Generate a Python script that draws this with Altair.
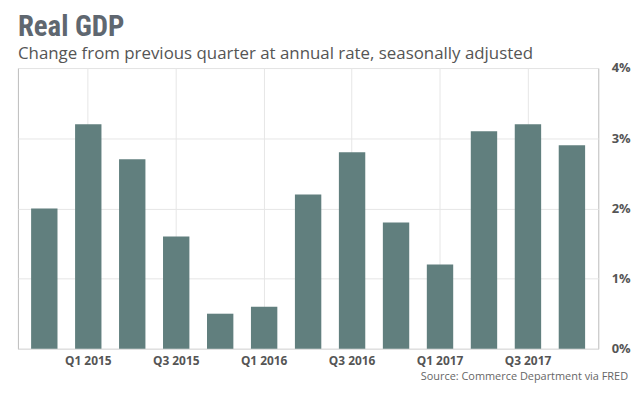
import altair as alt
import pandas as pd

quarters = ["Q4 2014", "Q1 2015", "Q2 2015", "Q3 2015", "Q4 2015", "Q1 2016", "Q2 2016",
            "Q3 2016", "Q4 2016", "Q1 2017", "Q2 2017", "Q3 2017", "Q4 2017"]
growth = [2.0, 3.2, 2.7, 1.6, 0.5, 0.6, 2.2, 2.8, 1.8, 1.2, 3.1, 3.2, 2.9]
shown_quarters = ["Q1 2015", "Q3 2015", "Q1 2016", "Q3 2016", "Q1 2017", "Q3 2017"]
y_ticks = [0, 1, 2, 3, 4]
source_text = "Source: Commerce Department via FRED"

df = pd.DataFrame({"quarter": quarters, "growth": growth})

W, H = 585, 283

bars = alt.Chart(df).mark_bar(color="#617f7e").encode(
    x=alt.X("quarter:N", sort=quarters, title=None,
            scale=alt.Scale(paddingInner=0.4, paddingOuter=0.3),
            axis=alt.Axis(values=shown_quarters, labelAngle=0, domain=False, ticks=False,
                          grid=True, gridColor="#e6e6e6", labelFont="Open Sans",
                          labelFontWeight="bold", labelFontSize=12, labelColor="#555555",
                          labelPadding=7)),
    y=alt.Y("growth:Q", title=None, scale=alt.Scale(domain=[0, 4], nice=False),
            axis=alt.Axis(orient="right", values=y_ticks, labelExpr="datum.value + '%'",
                          domain=False, ticks=False, grid=True, gridColor="#e6e6e6",
                          labelFont="Open Sans", labelFontWeight="bold", labelFontSize=13,
                          labelColor="#555555", labelPadding=13, labelBaseline="middle")),
)

src = alt.Chart(pd.DataFrame({"t": [source_text]})).mark_text(
    align="right", baseline="middle", font="Open Sans", fontSize=11, color="#666666"
).encode(text="t:N", x=alt.value(W + 30), y=alt.value(H + 28))

chart = alt.layer(bars, src).properties(
    width=W, height=H,
    padding={"left": 10, "top": 4, "right": 5, "bottom": 5},
    title=alt.TitleParams(
        text="Real GDP",
        subtitle="Change from previous quarter at annual rate, seasonally adjusted",
        anchor="start", font="'Roboto Condensed', 'Liberation Sans Narrow', Roboto",
        fontSize=29, fontWeight="bold", color="#5f6770",
        subtitleFont="Open Sans", subtitleFontSize=17, subtitleColor="#555555",
        subtitlePadding=4, offset=0),
).configure_view(stroke="#bbbbbb")

chart.save("out.html", embed_options={"renderer": "svg", "actions": False})
